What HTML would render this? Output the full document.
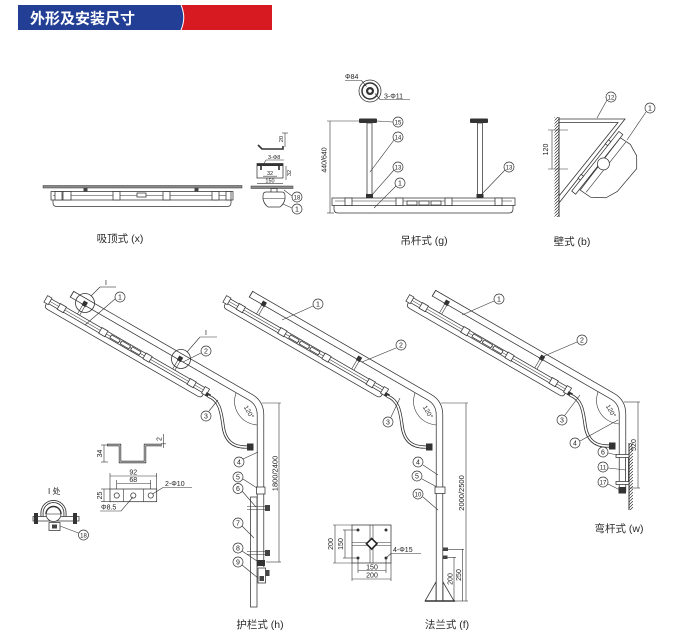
<!DOCTYPE html>
<html><head><meta charset="utf-8"><style>
html,body{margin:0;padding:0;background:#fff}
svg{display:block}
.l{stroke:#333;stroke-width:.6;fill:none}
.s{stroke:#333;stroke-width:.75;fill:#fff}
.n{stroke:#333;stroke-width:.8;fill:none}
.co circle{fill:#fff;stroke:#333;stroke-width:.7}
.co text{font-family:"Liberation Sans",sans-serif;font-size:7px;text-anchor:middle;fill:#222}
.co text.d{font-size:6px}
.t{font-family:"Liberation Sans",sans-serif;font-size:7px;fill:#222}
.tm{font-family:"Liberation Sans",sans-serif;font-size:7px;fill:#222;text-anchor:middle}
.lbl{font-family:"Liberation Sans","Noto Sans CJK SC",sans-serif;font-size:10.5px;text-anchor:middle;fill:#2a2a2a}
</style></head><body>
<svg width="685" height="638" viewBox="0 0 685 638" xmlns="http://www.w3.org/2000/svg">
<defs>
<pattern id="hatch" patternUnits="userSpaceOnUse" width="3" height="3">
<path d="M0,3 L3,0" stroke="#333" stroke-width=".7"/>
</pattern>
<g id="arm">
 <path d="M72,294.2 L250.5,397.25 Q260.5,403 260.5,415" fill="none" stroke="#333" stroke-width="7.3"/>
 <path d="M72,294.2 L250.5,397.25 Q260.5,403 260.5,415" fill="none" stroke="#fff" stroke-width="5.8"/>
 <line x1="70.1" y1="297.4" x2="73.9" y2="291" stroke="#333" stroke-width=".9"/>
 <g transform="translate(48,297) rotate(30)">
  <path d="M2,5 L2,8 Q2,11 6,11 L179,11 Q183,11 183,8 L183,5" class="s"/>
  <rect x="0" y="0" width="185" height="5.5" class="s"/>
  <line x1="4" y1="2.8" x2="181" y2="2.8" stroke="#333" stroke-width=".5"/>
  <rect x="-1" y="-1" width="5" height="7.5" class="s"/>
  <rect x="181" y="-1" width="5" height="7.5" class="s"/>
  <rect x="14" y="-.5" width="7" height="6.5" class="s"/>
  <rect x="62" y="-.5" width="7" height="6.5" class="s"/>
  <rect x="113" y="-.5" width="7" height="6.5" class="s"/>
  <rect x="164" y="-.5" width="7" height="6.5" class="s"/>
  <rect x="74" y="1" width="10" height="3.5" class="s"/>
  <rect x="86" y="1" width="10" height="3.5" class="s"/>
  <rect x="98" y="1" width="10" height="3.5" class="s"/>
  <line x1="34" y1="-11" x2="34" y2="0" class="l"/>
  <line x1="36.5" y1="-11" x2="36.5" y2="0" class="l"/>
  <rect x="33" y="-15" width="4.5" height="5" fill="#333"/>
  <line x1="144" y1="-11" x2="144" y2="0" class="l"/>
  <line x1="146.5" y1="-11" x2="146.5" y2="0" class="l"/>
  <rect x="143" y="-15" width="4.5" height="5" fill="#333"/>
  <rect x="185" y="3" width="5" height="4" fill="#333"/>
 </g>
 <path d="M208,396 C219,400 221,410 223,425 C225,443 235,447.5 247,447" fill="none" stroke="#333" stroke-width="3.2"/>
 <path d="M208,396 C219,400 221,410 223,425 C225,443 235,447.5 247,447" fill="none" stroke="#fff" stroke-width="1.6"/>
 <rect x="247" y="443.5" width="6.5" height="7" fill="#333"/>
 <path d="M236,393 C231,408 240,423 257,425" class="l"/>
</g>
</defs>

<!-- Header -->
<rect x="18" y="5" width="166" height="25" fill="#223f95"/>
<path d="M181,5 Q186.5,17.5 181,30 L272,30 L272,5 Z" fill="#d71a21"/>
<path d="M181,5 Q186.5,17.5 181,30" stroke="#fff" stroke-width="1" fill="none"/>
<text x="30" y="23.5" font-family="'Liberation Sans','Noto Sans CJK SC',sans-serif" font-size="15" font-weight="bold" fill="#fff">外形及安装尺寸</text>

<!-- 吸顶式 main -->
<rect x="43" y="185.5" width="199" height="2.5" fill="#8a8a8a" stroke="#333" stroke-width=".5"/>
<rect x="83.5" y="188" width="4" height="4" fill="#444"/>
<rect x="194.5" y="188" width="4" height="4" fill="#444"/>
<path d="M53,200 L53,203 Q53,206.5 57,206.5 L227,206.5 Q231,206.5 231,203 L231,200" class="s"/>
<rect x="51" y="191.5" width="182" height="8.5" class="s"/>
<line x1="53" y1="195.5" x2="231" y2="195.5" stroke="#333" stroke-width=".5"/>
<rect x="55" y="191.5" width="7" height="8.5" class="s"/>
<rect x="63" y="191.5" width="8" height="8.5" class="s"/>
<rect x="113" y="191.5" width="7" height="8.5" class="s"/>
<rect x="137" y="193" width="9" height="4" class="s"/>
<rect x="163" y="191.5" width="7" height="8.5" class="s"/>
<rect x="212" y="191.5" width="7" height="8.5" class="s"/>
<rect x="226" y="191.5" width="5" height="8.5" class="s"/>
<text x="120" y="242" class="lbl">吸顶式 (x)</text>

<!-- 吸顶式 side detail -->
<path d="M258,145 L262,149 L283,149 L283,146" fill="none" stroke="#333" stroke-width="1.6"/>
<line x1="285" y1="133" x2="285" y2="147" class="l"/>
<line x1="282" y1="133" x2="288" y2="133" class="l"/>
<text transform="translate(283,139) rotate(-90)" class="tm" style="font-size:5.5px">20</text>
<text x="268" y="159" class="t" style="font-size:5.5px">3-Φ8</text>
<line x1="266" y1="160" x2="284" y2="160" class="l"/>
<line x1="266" y1="160" x2="262" y2="167" class="l"/>
<rect x="257" y="163.5" width="26" height="14.5" class="s"/>
<rect x="257" y="163.5" width="26" height="2.5" fill="#333"/>
<rect x="260" y="166" width="2" height="4" fill="#555"/>
<rect x="278" y="166" width="2" height="4" fill="#555"/>
<text x="270" y="175" class="tm" style="font-size:5.5px">32</text>
<line x1="263" y1="176.2" x2="277" y2="176.2" class="l"/>
<text x="270" y="182.5" class="tm" style="font-size:5.5px">150</text>
<line x1="257" y1="183.3" x2="283" y2="183.3" class="l"/>
<line x1="286" y1="166" x2="286" y2="180" class="l"/>
<text transform="translate(291,173) rotate(-90)" class="tm" style="font-size:5.5px">32</text>
<rect x="251" y="186" width="42" height="2.5" fill="#8a8a8a" stroke="#333" stroke-width=".5"/>
<rect x="271" y="188.5" width="6" height="4" class="s"/>
<path d="M266,192 L282,192 Q285,192 285,196 L285,199 Q284,204 280,207 L268,207 Q264,204 263,199 L263,196 Q263,192 266,192 Z" class="s"/>
<line x1="263.5" y1="198.5" x2="284.5" y2="198.5" class="l"/>
<line x1="292" y1="196" x2="284" y2="190" class="l"/>
<line x1="292" y1="208" x2="283" y2="204" class="l"/>
<g class="co"><circle cx="297" cy="197" r="5"/><text x="297" y="199.3" class="d">18</text></g>
<g class="co"><circle cx="297" cy="209" r="5"/><text x="297" y="211.5">1</text></g>

<!-- 吊杆式 -->
<circle cx="370" cy="91" r="11" class="s"/>
<circle cx="370" cy="91" r="8" fill="none" stroke="#333" stroke-width="1.5"/>
<circle cx="370" cy="91" r="4" fill="#333"/>
<circle cx="370" cy="91" r="1.8" fill="#fff"/>
<text x="345" y="79" class="t">Φ84</text>
<line x1="345" y1="80.5" x2="361.5" y2="80.5" class="l"/>
<line x1="361.5" y1="80.5" x2="366.5" y2="86.5" class="l"/>
<text x="384" y="98.5" class="t">3-Φ11</text>
<line x1="380" y1="99.5" x2="410" y2="99.5" class="l"/>
<line x1="380" y1="99.5" x2="375" y2="93.5" class="l"/>
<line x1="330" y1="121" x2="330" y2="213" class="l"/>
<line x1="327" y1="121" x2="359" y2="121" class="l"/>
<line x1="327" y1="213" x2="334" y2="213" class="l"/>
<text transform="translate(326.5,160) rotate(-90)" class="tm">440/640</text>
<rect x="367" y="123" width="5" height="72" class="s"/>
<rect x="359" y="118.5" width="18" height="4.5" rx="1" fill="#333"/>
<rect x="366" y="194" width="7" height="4" fill="#333"/>
<rect x="477.5" y="123" width="5" height="72" class="s"/>
<rect x="470" y="118.5" width="18" height="4.5" rx="1" fill="#333"/>
<rect x="476.5" y="194" width="7" height="4" fill="#333"/>
<path d="M334,205.5 L334,209 Q334,213 338,213 L509,213 Q513,213 513,209 L513,205.5" class="s"/>
<rect x="332" y="198" width="183" height="7.5" class="s"/>
<line x1="335" y1="201" x2="512" y2="201" stroke="#333" stroke-width=".5"/>
<rect x="345" y="198" width="7" height="7.5" class="s"/>
<rect x="396" y="198" width="7" height="7.5" class="s"/>
<rect x="407" y="201" width="10" height="4" class="s"/>
<rect x="419" y="201" width="10" height="4" class="s"/>
<rect x="431" y="201" width="10" height="4" class="s"/>
<rect x="445" y="198" width="7" height="7.5" class="s"/>
<rect x="495" y="198" width="7" height="7.5" class="s"/>
<line x1="392.5" y1="122" x2="377" y2="121" class="l"/>
<line x1="394" y1="140" x2="370" y2="172" class="l"/>
<line x1="394" y1="170" x2="371" y2="196" class="l"/>
<line x1="396" y1="186" x2="374" y2="208" class="l"/>
<line x1="505" y1="170" x2="480" y2="196" class="l"/>
<g class="co"><circle cx="398" cy="122" r="5"/><text x="398" y="124.3" class="d">15</text></g>
<g class="co"><circle cx="398" cy="137" r="5"/><text x="398" y="139.3" class="d">14</text></g>
<g class="co"><circle cx="398" cy="167" r="5"/><text x="398" y="169.3" class="d">13</text></g>
<g class="co"><circle cx="400" cy="183" r="5"/><text x="400" y="185.5">1</text></g>
<g class="co"><circle cx="509" cy="167" r="5"/><text x="509" y="169.3" class="d">13</text></g>
<text x="424" y="244" class="lbl">吊杆式 (g)</text>

<!-- 壁式 -->
<rect x="554.5" y="117" width="4.5" height="100" fill="url(#hatch)"/>
<line x1="559" y1="117" x2="559" y2="217" stroke="#333" stroke-width="1"/>
<path d="M559,119 L625,119 L559,203" class="n"/>
<path d="M559,122.5 L618,122.5 L559,196" class="n"/>
<line x1="552" y1="130" x2="552" y2="169" class="l"/>
<line x1="548" y1="130" x2="568" y2="130" class="l"/>
<line x1="548" y1="169" x2="568" y2="169" class="l"/>
<text transform="translate(548,149.5) rotate(-90)" class="tm">120</text>
<g transform="matrix(0.621,-0.784,0.784,0.621,591.7,161)">
 <path d="M-30,9 L-29,22 L-20,34 L-8,39 L22,40 L32,32 L37,20 L36,8 Z" class="s"/>
 <line x1="-28" y1="15" x2="36" y2="15" class="l"/>
 <rect x="-36" y="3" width="76" height="5" class="s"/>
 <rect x="-22" y="0" width="5" height="3" class="s"/>
 <rect x="22" y="0" width="5" height="3" class="s"/>
 <circle cx="5" cy="11" r="6" class="s"/>
</g>
<line x1="607" y1="100" x2="597" y2="118" class="l"/>
<line x1="646" y1="112" x2="627" y2="140" class="l"/>
<g class="co"><circle cx="611" cy="97" r="5"/><text x="611" y="99.3" class="d">12</text></g>
<g class="co"><circle cx="650" cy="108" r="5"/><text x="650" y="110.5">1</text></g>
<text x="572" y="245" class="lbl">壁式 (b)</text>

<!-- ===== 护栏式 (h) ===== -->
<rect x="250.5" y="497" width="6.5" height="110" class="s"/>
<path d="M260.5,415 L260.5,567" fill="none" stroke="#333" stroke-width="7.3"/>
<path d="M260.5,415 L260.5,567" fill="none" stroke="#fff" stroke-width="5.8"/>
<use href="#arm"/>
<circle cx="85" cy="303" r="9.5" class="n"/>
<circle cx="181" cy="359" r="9.5" class="n"/>
<text x="105" y="285" class="t">I</text>
<line x1="100" y1="287" x2="116" y2="287" class="l"/>
<line x1="100" y1="287" x2="91" y2="296" class="l"/>
<text x="205" y="335" class="t">I</text>
<line x1="200" y1="337" x2="217" y2="337" class="l"/>
<line x1="200" y1="337" x2="187" y2="352" class="l"/>
<text transform="translate(247,413) rotate(60)" class="tm" style="font-size:6.5px">120°</text>
<rect x="256.5" y="487" width="8.5" height="7" class="s"/>
<line x1="247" y1="506.5" x2="266" y2="506.5" class="l"/>
<line x1="247" y1="509.5" x2="266" y2="509.5" class="l"/>
<rect x="265" y="505" width="5" height="6" fill="#444"/>
<line x1="247" y1="551.5" x2="266" y2="551.5" class="l"/>
<line x1="247" y1="554.5" x2="266" y2="554.5" class="l"/>
<rect x="265" y="550" width="5" height="6" fill="#444"/>
<rect x="257" y="560" width="8" height="6" fill="#333"/>
<rect x="258" y="568" width="7.5" height="15" class="s"/>
<rect x="265.5" y="570" width="4" height="6" fill="#444"/>
<rect x="259.5" y="576" width="4.5" height="5" fill="#444"/>
<line x1="279" y1="403" x2="279" y2="562" class="l"/>
<line x1="262" y1="403" x2="281" y2="403" class="l"/>
<line x1="266" y1="562" x2="281" y2="562" class="l"/>
<text transform="translate(277.5,473.5) rotate(-90)" class="tm" style="font-size:7.5px">1800/2400</text>
<line x1="115" y1="299" x2="85" y2="325" class="l"/>
<line x1="201" y1="353" x2="183" y2="362" class="l"/>
<line x1="209" y1="411" x2="218" y2="400" class="l"/>
<line x1="243" y1="459" x2="258" y2="452" class="l"/>
<line x1="243" y1="479" x2="257" y2="488" class="l"/>
<line x1="242" y1="491" x2="256" y2="507" class="l"/>
<line x1="242" y1="526" x2="254" y2="538" class="l"/>
<line x1="242" y1="551" x2="257" y2="561" class="l"/>
<line x1="242" y1="565" x2="258" y2="578" class="l"/>
<g class="co"><circle cx="120" cy="297" r="5"/><text x="120" y="299.5">1</text></g>
<g class="co"><circle cx="206" cy="351" r="5"/><text x="206" y="353.5">2</text></g>
<g class="co"><circle cx="206" cy="416" r="5"/><text x="206" y="418.5">3</text></g>
<g class="co"><circle cx="239" cy="462" r="5"/><text x="239" y="464.5">4</text></g>
<g class="co"><circle cx="238" cy="477" r="5"/><text x="238" y="479.5">5</text></g>
<g class="co"><circle cx="238" cy="488.5" r="5"/><text x="238" y="491">6</text></g>
<g class="co"><circle cx="238" cy="523" r="5"/><text x="238" y="525.5">7</text></g>
<g class="co"><circle cx="238" cy="548" r="5"/><text x="238" y="550.5">8</text></g>
<g class="co"><circle cx="238" cy="562" r="5"/><text x="238" y="564.5">9</text></g>
<text x="260" y="628" class="lbl">护栏式 (h)</text>

<!-- h details: Z profile -->
<path d="M107,445 L120,445 L120,462 L145,462 L145,445 L162,445" fill="none" stroke="#333" stroke-width="2.4"/>
<path d="M107,445 L120,445 L120,462 L145,462 L145,445 L162,445" fill="none" stroke="#fff" stroke-width=".8"/>
<line x1="104" y1="445" x2="104" y2="462" class="l"/>
<line x1="101" y1="445" x2="108" y2="445" class="l"/>
<line x1="101" y1="462" x2="108" y2="462" class="l"/>
<text transform="translate(102,453.5) rotate(-90)" class="tm">34</text>
<line x1="163.5" y1="434" x2="163.5" y2="448" class="l"/>
<line x1="161" y1="443.8" x2="166" y2="443.8" class="l"/>
<text transform="translate(161.5,439) rotate(-90)" class="tm">2</text>
<!-- plate -->
<line x1="110" y1="473" x2="110" y2="489" class="l"/>
<line x1="156.7" y1="473" x2="156.7" y2="489" class="l"/>
<line x1="110" y1="476" x2="156.7" y2="476" class="l"/>
<text x="133.3" y="474.5" class="tm">92</text>
<line x1="116.7" y1="480" x2="116.7" y2="493" class="l"/>
<line x1="150.7" y1="480" x2="150.7" y2="493" class="l"/>
<line x1="116.7" y1="483.5" x2="150.7" y2="483.5" class="l"/>
<text x="133.3" y="482" class="tm">68</text>
<rect x="110" y="489" width="46.7" height="12.7" class="s"/>
<line x1="123.3" y1="489" x2="123.3" y2="501.7" class="l"/>
<line x1="143.3" y1="489" x2="143.3" y2="501.7" class="l"/>
<circle cx="116.7" cy="495.5" r="2.6" class="s"/>
<circle cx="133.3" cy="495.5" r="2.6" class="s"/>
<circle cx="150.7" cy="495.5" r="2.6" class="s"/>
<line x1="104" y1="489" x2="104" y2="501.7" class="l"/>
<line x1="101" y1="489" x2="110" y2="489" class="l"/>
<line x1="101" y1="501.7" x2="110" y2="501.7" class="l"/>
<text transform="translate(102,495.5) rotate(-90)" class="tm">25</text>
<text x="165" y="486" class="t">2-Φ10</text>
<line x1="163" y1="487.5" x2="192" y2="487.5" class="l"/>
<line x1="163" y1="487.5" x2="152.5" y2="494" class="l"/>
<text x="101" y="509.5" class="t">Φ8.5</text>
<line x1="100" y1="511" x2="121" y2="511" class="l"/>
<line x1="121" y1="511" x2="133" y2="497" class="l"/>
<!-- I detail clamp -->
<text x="48" y="494" font-family="'Liberation Sans','Noto Sans CJK SC',sans-serif" font-size="8" fill="#222">I 处</text>
<path d="M42,518 L42,513 A11.5,11.5 0 0 1 65,513 L65,518" fill="none" stroke="#333" stroke-width="3"/>
<path d="M42,518 L42,513 A11.5,11.5 0 0 1 65,513 L65,518" fill="none" stroke="#fff" stroke-width="1.3"/>
<rect x="33" y="516.5" width="46" height="4.5" class="s"/>
<rect x="34" y="513" width="4" height="11" fill="#333"/>
<rect x="73" y="513" width="4" height="11" fill="#333"/>
<circle cx="53.5" cy="514" r="7.5" class="s"/>
<path d="M46,514 A7.5,7.5 0 0 1 61,514" fill="none" stroke="#333" stroke-width="1.4"/>
<line x1="46" y1="514" x2="61" y2="514" class="l"/>
<rect x="49" y="522.5" width="11" height="8" class="s"/>
<rect x="52" y="524.5" width="5" height="4" fill="#444"/>
<line x1="78.5" y1="533" x2="60" y2="526" class="l"/>
<g class="co"><circle cx="83.5" cy="535" r="5"/><text x="83.5" y="537.3" class="d">18</text></g>

<!-- ===== 法兰式 (f) ===== -->
<path d="M439.5,415 L439.5,601" fill="none" stroke="#333" stroke-width="7.3"/>
<path d="M439.5,415 L439.5,601" fill="none" stroke="#fff" stroke-width="5.8"/>
<use href="#arm" transform="translate(179,0)"/>
<text transform="translate(426,413) rotate(60)" class="tm" style="font-size:6.5px">120°</text>
<rect x="435" y="487" width="10" height="6.5" class="s"/>
<path d="M436,582 L425,601 L436,601 Z" class="s"/>
<path d="M443,582 L454,601 L443,601 Z" class="s"/>
<line x1="425" y1="601" x2="455" y2="601" stroke="#333" stroke-width="1.5"/>
<rect x="443" y="547.5" width="5" height="3.5" fill="#444"/>
<line x1="448" y1="549.3" x2="464" y2="549.3" class="l"/>
<rect x="443" y="555.5" width="4.5" height="3.5" fill="#444"/>
<line x1="447.5" y1="557.3" x2="456" y2="557.3" class="l"/>
<line x1="454" y1="557" x2="454" y2="601" class="l"/>
<line x1="462.5" y1="549" x2="462.5" y2="601" class="l"/>
<text transform="translate(452.5,579) rotate(-90)" class="tm">200</text>
<text transform="translate(461,575) rotate(-90)" class="tm">250</text>
<line x1="466" y1="403" x2="466" y2="601" class="l"/>
<line x1="441" y1="403" x2="468" y2="403" class="l"/>
<line x1="454" y1="601" x2="468" y2="601" class="l"/>
<text transform="translate(464,493) rotate(-90)" class="tm" style="font-size:7.5px">2000/2500</text>
<!-- flange -->
<rect x="352" y="525" width="39" height="38" class="s"/>
<line x1="370" y1="525" x2="370" y2="563" class="l"/>
<line x1="373" y1="525" x2="373" y2="563" class="l"/>
<line x1="352" y1="542.5" x2="391" y2="542.5" class="l"/>
<line x1="352" y1="545.5" x2="391" y2="545.5" class="l"/>
<rect x="368" y="540" width="7.5" height="7.5" transform="rotate(45 371.7 543.7)" fill="#fff" stroke="#222" stroke-width="1.6"/>
<circle cx="358" cy="530" r="1.5" fill="#333"/>
<circle cx="386" cy="530" r="1.5" fill="#333"/>
<circle cx="358" cy="558" r="1.5" fill="#333"/>
<circle cx="386" cy="558" r="1.5" fill="#333"/>
<line x1="333" y1="525" x2="352" y2="525" class="l"/>
<line x1="333" y1="563" x2="352" y2="563" class="l"/>
<line x1="335" y1="525" x2="335" y2="563" class="l"/>
<line x1="343" y1="530" x2="358" y2="530" class="l"/>
<line x1="343" y1="558" x2="358" y2="558" class="l"/>
<line x1="345" y1="530" x2="345" y2="558" class="l"/>
<text transform="translate(333,544) rotate(-90)" class="tm">200</text>
<text transform="translate(343,544) rotate(-90)" class="tm">150</text>
<line x1="358" y1="558" x2="358" y2="573" class="l"/>
<line x1="386" y1="558" x2="386" y2="573" class="l"/>
<line x1="358" y1="570.5" x2="386" y2="570.5" class="l"/>
<text x="372" y="569.3" class="tm">150</text>
<line x1="352" y1="563" x2="352" y2="581" class="l"/>
<line x1="391" y1="563" x2="391" y2="581" class="l"/>
<line x1="352" y1="579" x2="391" y2="579" class="l"/>
<text x="372" y="577.7" class="tm">200</text>
<text x="393" y="552" class="t">4-Φ15</text>
<line x1="391" y1="553.5" x2="421" y2="553.5" class="l"/>
<line x1="391" y1="553.5" x2="386" y2="558" class="l"/>
<line x1="313" y1="306" x2="282" y2="320" class="l"/>
<line x1="396" y1="348" x2="362" y2="362" class="l"/>
<line x1="391" y1="417" x2="400" y2="398" class="l"/>
<line x1="423" y1="465" x2="438" y2="475" class="l"/>
<line x1="422" y1="479" x2="437" y2="487" class="l"/>
<line x1="423" y1="497" x2="438" y2="510" class="l"/>
<g class="co"><circle cx="318" cy="304" r="5"/><text x="318" y="306.5">1</text></g>
<g class="co"><circle cx="401" cy="345" r="5"/><text x="401" y="347.5">2</text></g>
<g class="co"><circle cx="388" cy="422" r="5"/><text x="388" y="424.5">3</text></g>
<g class="co"><circle cx="418" cy="462" r="5"/><text x="418" y="464.5">4</text></g>
<g class="co"><circle cx="417" cy="476" r="5"/><text x="417" y="478.5">5</text></g>
<g class="co"><circle cx="418" cy="494" r="5"/><text x="418" y="496.3" class="d">10</text></g>
<text x="447" y="628" class="lbl">法兰式 (f)</text>

<!-- ===== 弯杆式 (w) ===== -->
<path d="M622.5,414 L622.5,492" fill="none" stroke="#333" stroke-width="7.3"/>
<path d="M622.5,414 L622.5,492" fill="none" stroke="#fff" stroke-width="5.8"/>
<use href="#arm" transform="translate(362,-1)"/>
<text transform="translate(609,412) rotate(60)" class="tm" style="font-size:6.5px">120°</text>
<rect x="629" y="443" width="4" height="67" fill="url(#hatch)"/>
<line x1="629" y1="443" x2="629" y2="510" stroke="#333" stroke-width="1"/>
<rect x="625.5" y="457" width="3" height="25" class="s"/>
<rect x="616" y="454.5" width="13" height="3" class="s"/>
<rect x="616" y="481.5" width="13" height="3" class="s"/>
<rect x="618.5" y="487" width="7.5" height="6.5" fill="#333"/>
<line x1="638" y1="402" x2="638" y2="488" class="l"/>
<line x1="624" y1="402" x2="640" y2="402" class="l"/>
<line x1="629" y1="488" x2="640" y2="488" class="l"/>
<text transform="translate(636,445) rotate(-90)" class="tm">520</text>
<line x1="494" y1="301" x2="462" y2="315" class="l"/>
<line x1="577" y1="342" x2="542" y2="357" class="l"/>
<line x1="565" y1="415" x2="580" y2="395" class="l"/>
<line x1="580" y1="441" x2="618" y2="420" class="l"/>
<line x1="608" y1="453" x2="617" y2="455" class="l"/>
<line x1="608" y1="468" x2="626" y2="470" class="l"/>
<line x1="608" y1="484" x2="620" y2="490" class="l"/>
<g class="co"><circle cx="499" cy="299" r="5"/><text x="499" y="301.5">1</text></g>
<g class="co"><circle cx="582" cy="340" r="5"/><text x="582" y="342.5">2</text></g>
<g class="co"><circle cx="562" cy="420" r="5"/><text x="562" y="422.5">3</text></g>
<g class="co"><circle cx="575" cy="443" r="5"/><text x="575" y="445.5">4</text></g>
<g class="co"><circle cx="603" cy="452" r="5"/><text x="603" y="454.5">6</text></g>
<g class="co"><circle cx="603" cy="467" r="5"/><text x="603" y="469.3" class="d">11</text></g>
<g class="co"><circle cx="603" cy="482" r="5"/><text x="603" y="484.3" class="d">17</text></g>
<text x="619" y="532" class="lbl">弯杆式 (w)</text>
</svg>
</body></html>
